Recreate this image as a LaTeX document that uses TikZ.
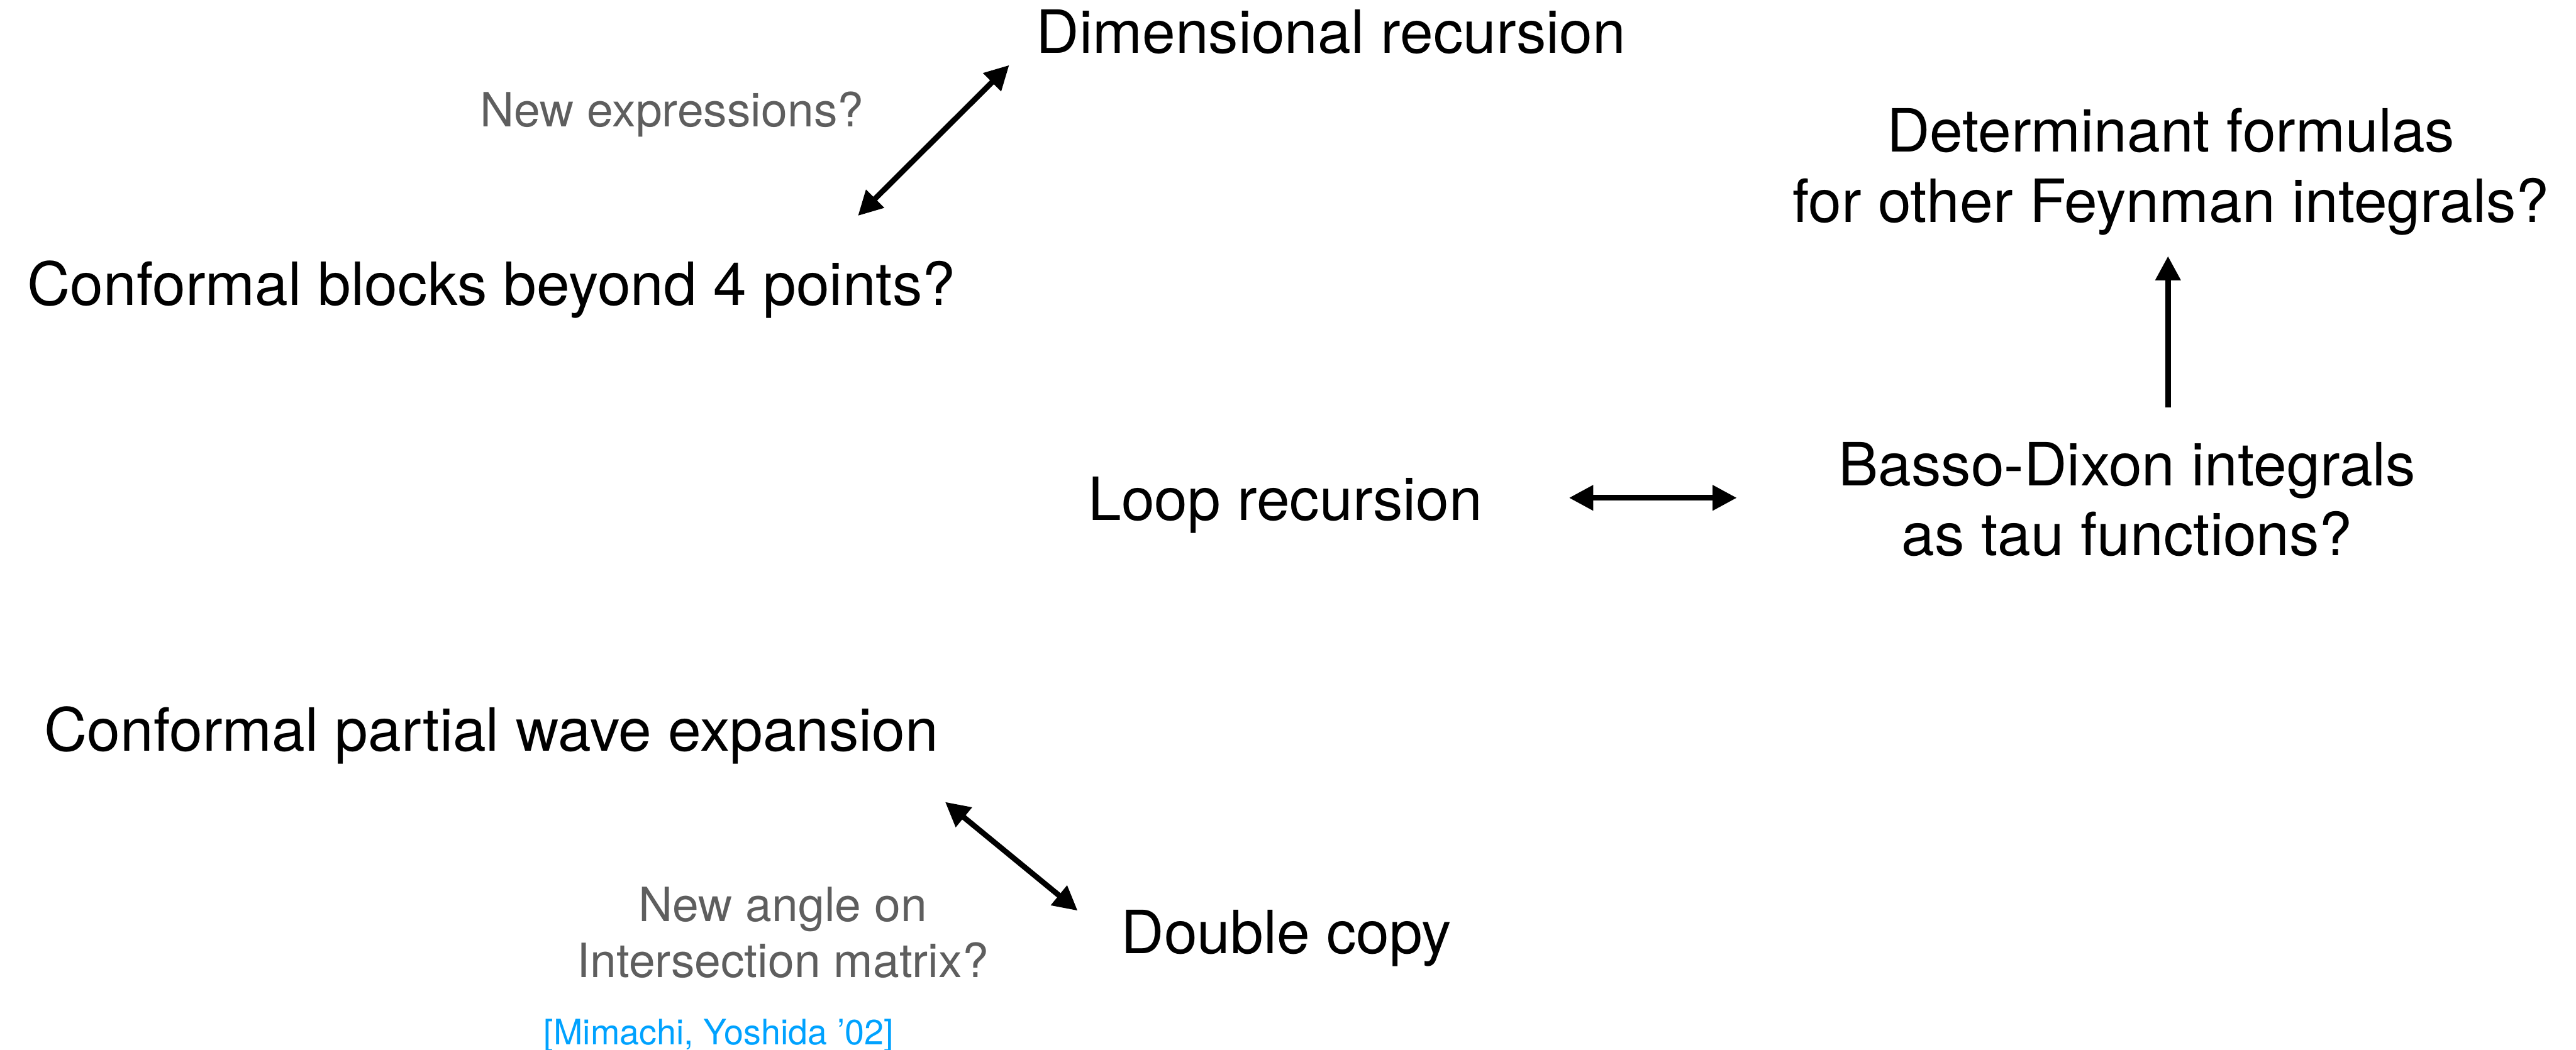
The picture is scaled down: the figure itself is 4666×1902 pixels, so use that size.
\documentclass[tikz,border=0pt]{standalone}
\usepackage{fontspec}
\setmainfont{TeX Gyre Heros}
\usetikzlibrary{arrows.meta}
\definecolor{notegray}{RGB}{94,94,94}
\definecolor{refblue}{RGB}{0,162,255}
\tikzset{
  topic/.style={inner sep=0pt, anchor=base, align=center,
    font=\fontsize{10.8pt}{12.75pt}\selectfont, text=black},
  note/.style={inner sep=0pt, anchor=base, align=center,
    font=\fontsize{8.55pt}{10.2pt}\selectfont, text=notegray},
  cite/.style={inner sep=0pt, anchor=base,
    font=\fontsize{6.35pt}{7.6pt}\selectfont, text=refblue},
  link/.style={line width=1pt, {Triangle[length=4.4pt,width=4.4pt]}-{Triangle[length=4.4pt,width=4.4pt]}},
  onelink/.style={line width=1pt, -{Triangle[length=4.4pt,width=4.4pt]}}
}
\begin{document}
\begin{tikzpicture}[x=0.1pt,y=-0.1pt]
\useasboundingbox (0,0) rectangle (4666,1902);

% topics (multi-line nodes sit on the baseline of their last line)
\node[topic] (dim)  at (2411,96)   {Dimensional recursion};
\node[topic] (cb)   at (890,553)   {Conformal blocks beyond 4 points?};
\node[topic] (det)  at (3932,403)  {Determinant formulas\\for other Feynman integrals?};
\node[topic] (loop) at (2328,943)  {Loop recursion};
\node[topic] (bd)   at (3853,1007) {Basso-Dixon integrals\\as tau functions?};
\node[topic] (cpw)  at (890,1361)  {Conformal partial wave expansion};
\node[topic] (dc)   at (2330,1728) {Double copy};

% side notes
\node[note] (nexp)  at (1217,230)  {New expressions?};
\node[note] (nang)  at (1418,1771) {New angle on\\Intersection matrix?};
\node[cite] (mimy)  at (1302,1893) {[Mimachi, Yoshida ’02]};

% arrow end points
\coordinate (cbEnd)   at (1554,391);
\coordinate (dimEnd)  at (1828,118);
\coordinate (loopEnd) at (2842,902);
\coordinate (bdEnd)   at (3146,902);
\coordinate (bdTop)   at (3927,738);
\coordinate (detEnd)  at (3927,464);
\coordinate (cpwEnd)  at (1712,1453);
\coordinate (dcEnd)   at (1952,1650);

% connectors
\draw[link] (cbEnd) -- (dimEnd);
\draw[link] (loopEnd) -- (bdEnd);
\draw[onelink] (bdTop) -- (detEnd);
\draw[link] (cpwEnd) -- (dcEnd);
\end{tikzpicture}
\end{document}
